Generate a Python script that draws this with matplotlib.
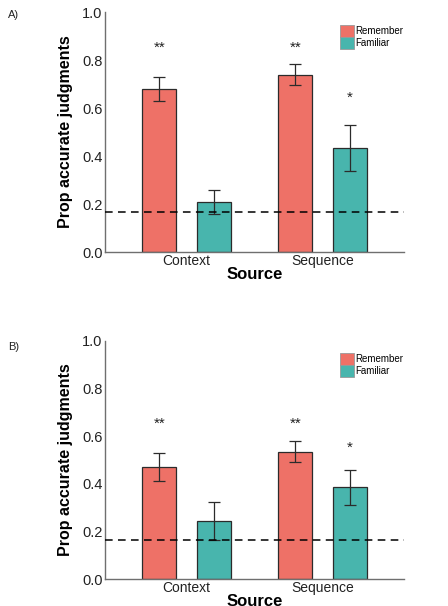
import numpy as np
import matplotlib
matplotlib.use('Agg')
import matplotlib.pyplot as plt
from matplotlib.patches import Patch

plt.rcParams['font.family'] = ['Liberation Sans', 'DejaVu Sans']

sources = ['Context', 'Sequence']
judgments = ['Remember', 'Familiar']
chance = 1 / 6

# Panel A
a_remember = [0.68, 0.74]
a_remember_err = [0.05, 0.045]
a_familiar = [0.21, 0.435]
a_familiar_err = [0.05, 0.095]
a_stars_remember = ['**', '**']
a_stars_familiar = ['', '*']
a_star_y_remember = [0.85, 0.85]
a_star_y_familiar = [0.0, 0.645]

# Panel B
b_remember = [0.47, 0.535]
b_remember_err = [0.06, 0.043]
b_familiar = [0.245, 0.385]
b_familiar_err = [0.08, 0.072]
b_stars_remember = ['**', '**']
b_stars_familiar = ['', '*']
b_star_y_remember = [0.65, 0.65]
b_star_y_familiar = [0.0, 0.55]

RED = '#EE7167'
TEAL = '#48B5AD'
EDGE = '#2b2b2b'
SPINE = '#6f6f6f'


def draw_panel(ax, rem, rem_err, fam, fam_err, st_r, st_f, sy_r, sy_f):
    x = np.arange(len(sources))
    w = 0.25
    off = 0.2
    ax.bar(x - off, rem, w, color=RED, edgecolor=EDGE, linewidth=0.9, zorder=2)
    ax.bar(x + off, fam, w, color=TEAL, edgecolor=EDGE, linewidth=0.9, zorder=2)
    ax.errorbar(x - off, rem, yerr=rem_err, fmt='none', ecolor=EDGE,
                elinewidth=0.9, capsize=4.5, capthick=0.9, zorder=3)
    ax.errorbar(x + off, fam, yerr=fam_err, fmt='none', ecolor=EDGE,
                elinewidth=0.9, capsize=4.5, capthick=0.9, zorder=3)
    ax.axhline(chance, color='black', linestyle=(0, (5, 3.5)), linewidth=1.1, zorder=4)
    for i in range(len(sources)):
        if st_r[i]:
            ax.text(x[i] - off, sy_r[i], st_r[i], ha='center', va='center', fontsize=11, color='#222222')
        if st_f[i]:
            ax.text(x[i] + off, sy_f[i], st_f[i], ha='center', va='center', fontsize=11, color='#222222')

    ax.set_xlim(-0.6, 1.6)
    ax.set_ylim(0, 1.0)
    ax.set_yticks([0.0, 0.2, 0.4, 0.6, 0.8, 1.0])
    ax.set_yticklabels(['0.0', '0.2', '0.4', '0.6', '0.8', '1.0'], fontsize=10.5, color='#222222')
    ax.set_xticks(x)
    ax.set_xticklabels(sources, fontsize=10, color='#222222')
    ax.tick_params(axis='both', length=0, pad=1.5)
    ax.set_ylabel('Prop accurate judgments', fontsize=11.5, fontweight='bold', labelpad=7)
    ax.set_xlabel('Source', fontsize=12, fontweight='bold', labelpad=-1)
    for s in ['top', 'right']:
        ax.spines[s].set_visible(False)
    for s in ['left', 'bottom']:
        ax.spines[s].set_color(SPINE)
        ax.spines[s].set_linewidth(1.0)
    handles = [Patch(facecolor=RED, edgecolor='#999999', linewidth=0.6),
               Patch(facecolor=TEAL, edgecolor='#999999', linewidth=0.6)]
    ax.legend(handles, judgments, loc='upper right', bbox_to_anchor=(1.02, 0.975),
              frameon=False, fontsize=7, handlelength=1.5, handleheight=1.5,
              handletextpad=0.1, labelspacing=0.0, borderpad=0.2)


fig = plt.figure(figsize=(4.48, 6.06), dpi=100)
ax_a = fig.add_axes([0.234, 0.584, 0.668, 0.396])
ax_b = fig.add_axes([0.234, 0.044, 0.668, 0.394])

draw_panel(ax_a, a_remember, a_remember_err, a_familiar, a_familiar_err,
           a_stars_remember, a_stars_familiar, a_star_y_remember, a_star_y_familiar)
draw_panel(ax_b, b_remember, b_remember_err, b_familiar, b_familiar_err,
           b_stars_remember, b_stars_familiar, b_star_y_remember, b_star_y_familiar)

fig.text(8 / 448, 1 - 15 / 606, 'A)', fontsize=8, va='center', ha='left', color='#222222')
fig.text(8 / 448, 1 - 347 / 606, 'B)', fontsize=8, va='center', ha='left', color='#222222')

fig.savefig('out.png', dpi=100)
